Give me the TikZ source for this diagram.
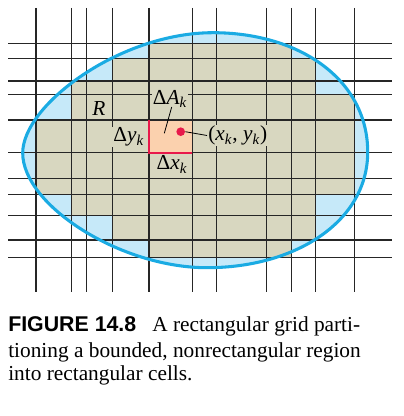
\documentclass[tikz,border=0pt]{standalone}
\usepackage{fontspec}
\setmainfont{Liberation Serif}
\newfontfamily\capsans{Liberation Sans}
\definecolor{cellgray}{HTML}{D8D7C0}
\definecolor{ovalfill}{HTML}{C6E9F9}
\definecolor{ovalline}{HTML}{1AABE3}
\definecolor{peach}{HTML}{FBD1AE}
\definecolor{cellred}{HTML}{E8194B}
\definecolor{gridline}{HTML}{262626}
\begin{document}
\begin{tikzpicture}[x=0.75pt,y=-0.75pt,
  gridln/.style={draw=gridline,line width=0.9pt},
  lbl/.style={fill=cellgray,inner sep=0.8pt,font=\fontsize{16pt}{18pt}\selectfont},
  leader/.style={draw=black,line width=0.6pt},
  caprm/.style={anchor=base west,inner sep=0pt,font=\fontsize{16pt}{18pt}\selectfont}]
\useasboundingbox (0,0) rectangle (403,416);
\def\ovalpath{(22.7,153) .. controls (22.7,105) and (120,32.7) .. (213,32.7)
  .. controls (300,32.7) and (367.7,80) .. (367.7,152)
  .. controls (367.7,222) and (295,267.7) .. (207,267.7)
  .. controls (120,267.7) and (22.7,205) .. cycle}
% oval fill
\path[fill=ovalfill] \ovalpath;
% gray cells
\fill[cellgray] (149,43.3) rectangle (291.7,58.7);
\fill[cellgray] (112.7,58.7) rectangle (315.3,81);
\fill[cellgray] (71.7,81) rectangle (315.3,94.3);
\fill[cellgray] (71.7,94.3) rectangle (354.3,120);
\fill[cellgray] (36,120) rectangle (354.3,194.3);
\fill[cellgray] (71.7,194.3) rectangle (315.3,215.7);
\fill[cellgray] (112.7,215.7) rectangle (315.3,240);
\fill[cellgray] (149,240) rectangle (291.7,257.7);
% peach cell
\fill[peach] (149,120) rectangle (192.3,152.7);
% grid
\foreach \gx in {36,71.7,86.7,112.7,149,192.3,216.7,266.7,291.7,315.3,354.3}
  \draw[gridln] (\gx,8) -- (\gx,292);
\foreach \gy in {43.3,58.7,81,94.3,120,152.7,178.3,194.3,215.7,240,257.7}
  \draw[gridln] (8,\gy) -- (392,\gy);
% oval outline
\draw[ovalline,line width=2.3pt] \ovalpath;
% red edges
\draw[cellred,line width=1.6pt] (149,120) -- (149,152.7) -- (192.3,152.7);
% labels
\node[inner sep=0pt,font=\fontsize{16pt}{18pt}\selectfont] (R) at (99,109) {\textit{R}};
\node[lbl] (dA) at (170,99) {Δ\textit{A}\textsubscript{\textit{k}}};
\node[lbl,anchor=east] (dy) at (145.5,137) {Δ\textit{y}\textsubscript{\textit{k}}};
\node[lbl] (dx) at (172,164.5) {Δ\textit{x}\textsubscript{\textit{k}}};
\node[lbl,anchor=west] (pt) at (207,135.5) {(\textit{x}\textsubscript{\textit{k}}, \textit{y}\textsubscript{\textit{k}})};
\coordinate (inside) at (164.3,133.3);
\node[circle,fill=cellred,inner sep=0pt,minimum size=6.5pt] (dot) at (180.7,131.7) {};
\draw[leader] (171.7,107) -- (inside);
\draw[leader] (dot.east) -- (pt.west);
% caption
\node[caprm,font=\fontsize{16pt}{18pt}\capsans\bfseries] (fig) at (8,331.7) {FIGURE 14.8};
\node[caprm] (c1) at (152,331.7) {A rectangular grid parti-};
\node[caprm] (c2) at (8,357) {tioning a bounded, nonrectangular region};
\node[caprm] (c3) at (8,380.7) {into rectangular cells.};
\end{tikzpicture}
\end{document}
